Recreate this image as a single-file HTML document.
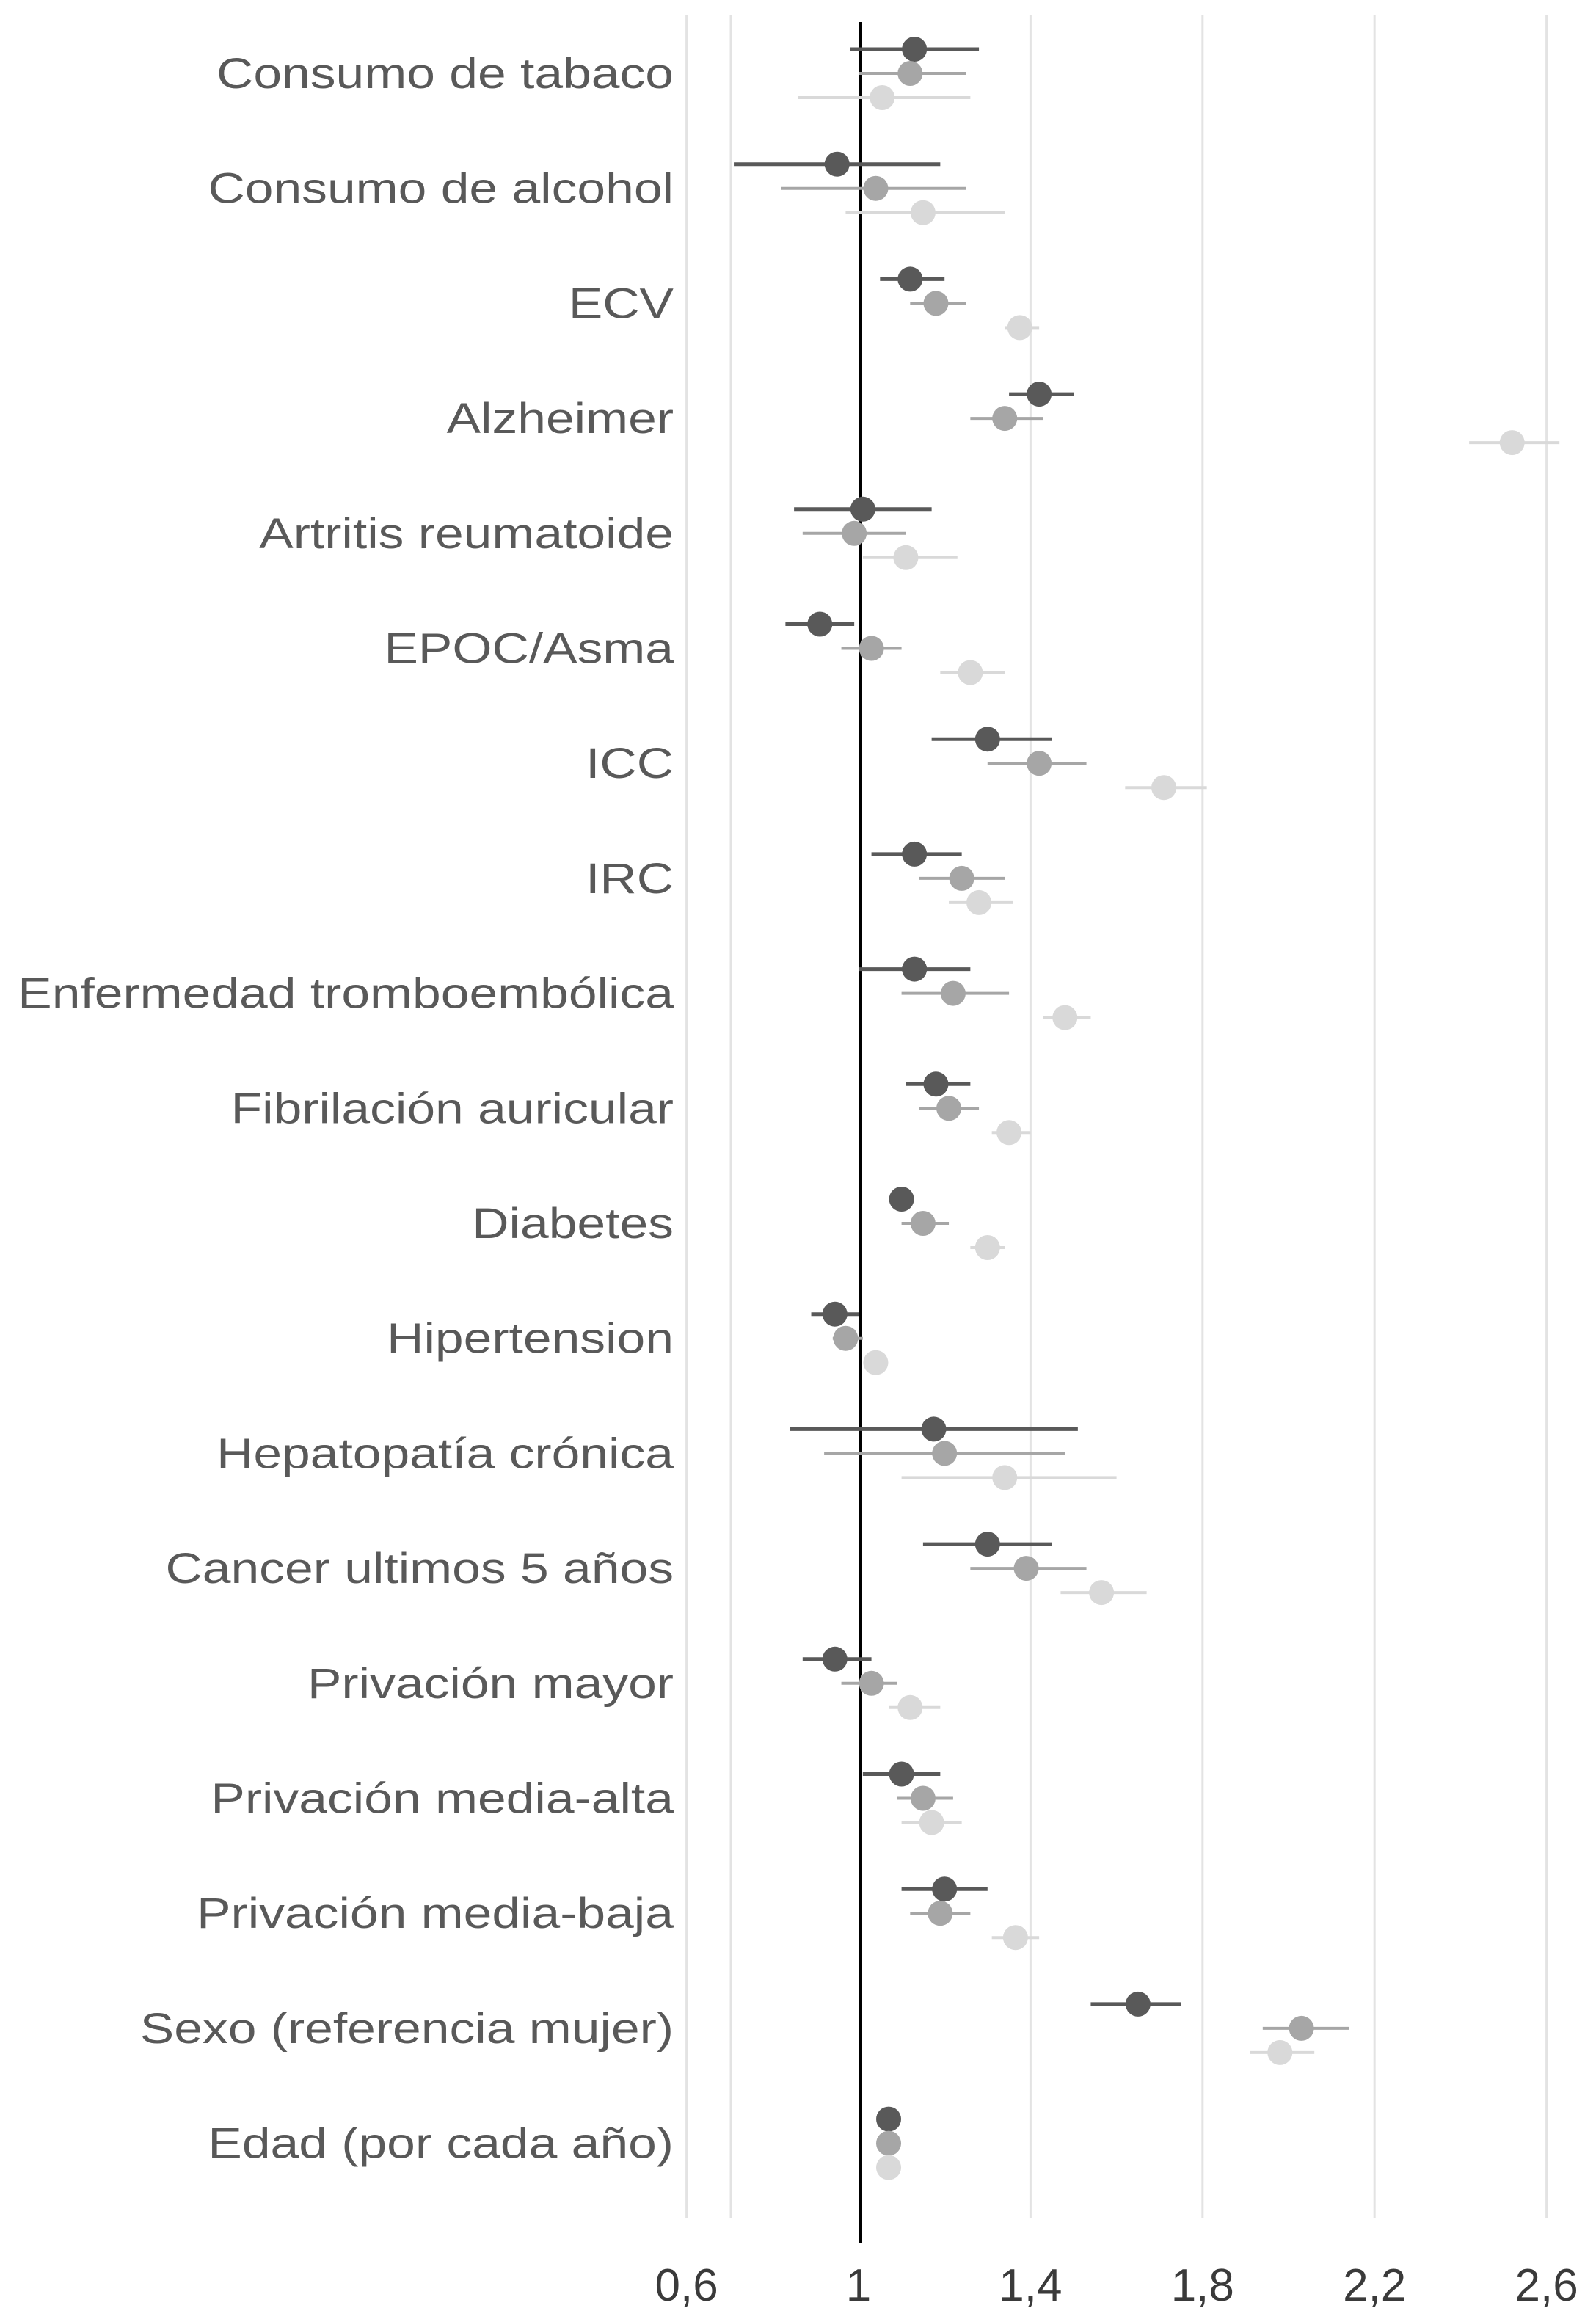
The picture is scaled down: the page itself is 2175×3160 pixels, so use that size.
<!DOCTYPE html>
<html><head><meta charset="utf-8"><style>
html,body{margin:0;padding:0;background:#fff;}
svg{display:block;}
text{font-family:"Liberation Sans",sans-serif;}
</style></head>
<body>
<svg id="chart" width="2175" height="3160" xmlns="http://www.w3.org/2000/svg"></svg>
<script>
const categories=["Consumo de tabaco","Consumo de alcohol","ECV","Alzheimer","Artritis reumatoide","EPOC/Asma","ICC","IRC","Enfermedad tromboembólica","Fibrilación auricular","Diabetes","Hipertension","Hepatopatía crónica","Cancer ultimos 5 años","Privación mayor","Privación media-alta","Privación media-baja","Sexo (referencia mujer)","Edad (por cada año)"];
const darkVal=[1.13,0.95,1.12,1.42,1.01,0.91,1.30,1.13,1.13,1.18,1.10,0.945,1.175,1.30,0.945,1.10,1.20,1.65,1.07];
const darkLo=[0.98,0.71,1.05,1.35,0.85,0.83,1.17,1.03,1.00,1.11,1.08,0.89,0.84,1.15,0.87,1.01,1.10,1.54,1.06];
const darkHi=[1.28,1.19,1.20,1.50,1.17,0.99,1.45,1.24,1.26,1.26,1.12,1.00,1.51,1.45,1.03,1.19,1.30,1.75,1.08];
const midVal=[1.12,1.04,1.18,1.34,0.99,1.03,1.42,1.24,1.22,1.21,1.15,0.97,1.20,1.39,1.03,1.15,1.19,2.03,1.07];
const midLo=[1.00,0.82,1.12,1.26,0.87,0.96,1.30,1.14,1.10,1.14,1.10,0.94,0.92,1.26,0.96,1.09,1.12,1.94,1.06];
const midHi=[1.25,1.25,1.25,1.43,1.11,1.10,1.53,1.34,1.35,1.28,1.21,1.01,1.48,1.53,1.09,1.22,1.26,2.14,1.08];
const lightVal=[1.055,1.15,1.375,2.52,1.11,1.26,1.71,1.28,1.48,1.35,1.30,1.04,1.34,1.565,1.12,1.17,1.365,1.98,1.07];
const lightLo=[0.86,0.97,1.34,2.42,1.01,1.19,1.62,1.21,1.43,1.31,1.26,1.02,1.10,1.47,1.07,1.10,1.31,1.91,1.06];
const lightHi=[1.26,1.34,1.42,2.63,1.23,1.34,1.81,1.36,1.54,1.40,1.34,1.06,1.60,1.67,1.19,1.24,1.42,2.06,1.08];
const tickVals=[0.6,1,1.4,1.8,2.2,2.6];
const tickLabels=["0,6","1","1,4","1,8","2,2","2,6"];

const NS="http://www.w3.org/2000/svg";
const svg=document.getElementById('chart');
const X=v=>1170+(v-1)*586;
const Y=i=>100+i*156.7;
function mk(t,a){const e=document.createElementNS(NS,t);for(const k in a)e.setAttribute(k,a[k]);svg.appendChild(e);return e;}
let g=mk('line',{x1:996,x2:996,y1:20,y2:3023,stroke:'#e3e3e3','stroke-width':3});


tickVals.forEach((v,i)=>{
 if(v!==1){const l=mk('line',{x1:X(v),x2:X(v),y1:20,y2:3023,stroke:'#e3e3e3','stroke-width':3});
 
 }
 const t=mk('text',{x:X(v),y:3135,'text-anchor':'middle','font-size':62,fill:'#3a3a3a'});
 t.textContent=tickLabels[i];
 
 
});
const ref=mk('line',{x1:X(1)+3,x2:X(1)+3,y1:30,y2:3057,stroke:'#000','stroke-width':4});


const series=[[darkVal,darkLo,darkHi,'#595959',-33],[midVal,midLo,midHi,'#a6a6a6',0],[lightVal,lightLo,lightHi,'#d9d9d9',33]];
categories.forEach((c,i)=>{
 const t=mk('text',{x:918,y:Y(i)+20,'text-anchor':'end','font-size':58,fill:'#595959'});
 t.textContent=c;
 
 
 const w=t.getComputedTextLength();
 t.setAttribute('textLength',(w*1.2).toFixed(1));
 t.setAttribute('lengthAdjust','spacingAndGlyphs');
 series.forEach((s,k)=>{
  const y=Y(i)+s[4];
  const l=mk('line',{x1:X(s[1][i]),x2:X(s[2][i]),y1:y,y2:y,stroke:s[3],'stroke-width':k==0?5:4});
  
  
  const p=mk('circle',{cx:X(s[0][i]),cy:y,r:17,fill:s[3]});
  
  
 });
});
</script>
</body></html>
